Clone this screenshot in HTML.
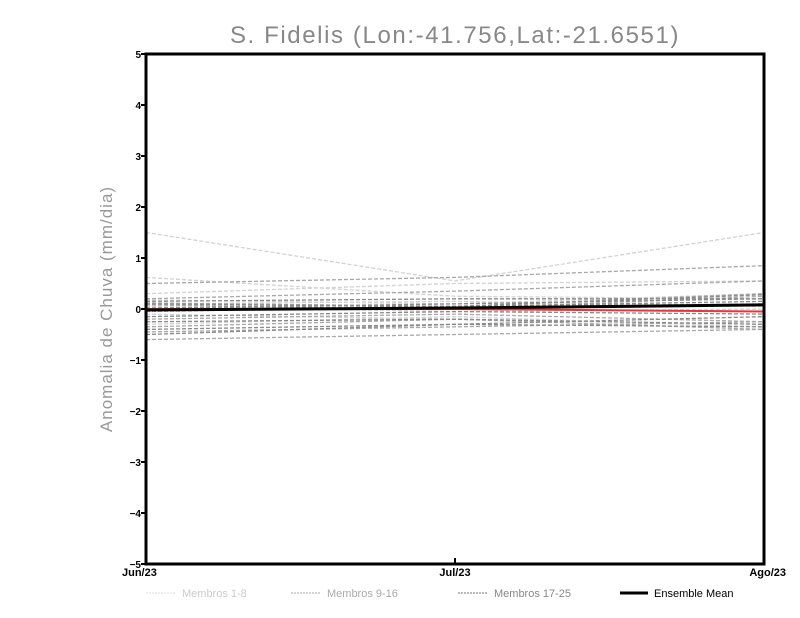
<!DOCTYPE html>
<html><head><meta charset="utf-8">
<style>
body{margin:0;background:#fff;width:800px;height:618px;overflow:hidden;font-family:"Liberation Sans",sans-serif}
svg{display:block}
</style></head>
<body>
<svg id="chart" width="800" height="618" xmlns="http://www.w3.org/2000/svg">
<text x="455" y="43" text-anchor="middle" font-size="24" fill="#888" font-family="Liberation Sans, sans-serif" letter-spacing="1.6">S. Fidelis (Lon:-41.756,Lat:-21.6551)</text>
<text transform="translate(112,309) rotate(-90)" text-anchor="middle" font-size="17" fill="#999" letter-spacing="1">Anomalia de Chuva (mm/dia)</text>
<g id="members"></g>
<g id="axes"></g>
<g id="legend">
  <line x1="146" y1="593" x2="176" y2="593" stroke="#ddd" stroke-dasharray="2,1"/>
  <text x="182" y="597" font-size="11" fill="#ccc">Membros 1-8</text>
  <line x1="291" y1="593" x2="321" y2="593" stroke="#aaa" stroke-dasharray="2,1"/>
  <text x="327" y="597" font-size="11" fill="#aaa">Membros 9-16</text>
  <line x1="458" y1="593" x2="488" y2="593" stroke="#777" stroke-dasharray="2,1"/>
  <text x="494" y="597" font-size="11" fill="#888">Membros 17-25</text>
  <line x1="620" y1="593" x2="648" y2="593" stroke="#000" stroke-width="3"/>
  <text x="654" y="597" font-size="11" fill="#000">Ensemble Mean</text>
</g>
</svg>
<script>
const months=["Jun/23","Jul/23","Ago/23"];
const yTicks=[-5,-4,-3,-2,-1,0,1,2,3,4,5];
const members=[
[1.5,0.55,1.5],[0.62,0.25,0.2],[0.3,0.5,0.55],[0.18,0.1,0.3],[0.1,0.15,0.05],[-0.1,-0.2,-0.3],[-0.3,-0.15,-0.35],[0.05,-0.05,0.0],
[0.5,0.62,0.85],[0.2,0.35,0.55],[0.12,0.05,0.3],[0.08,0.0,0.25],[-0.05,0.05,0.1],[-0.2,-0.1,-0.25],[-0.35,-0.2,-0.4],[-0.45,-0.35,-0.25],[-0.6,-0.5,-0.4],
[0.15,0.2,0.2],[0.1,0.05,0.15],[0.02,0.1,0.2],[-0.15,-0.05,-0.1],[-0.25,-0.2,-0.3],[-0.4,-0.3,-0.35],[-0.5,-0.3,-0.15],[0.0,0.05,0.28]
];
const redSeries=[0.0,0.0,-0.05];
const meanSeries=[-0.02,0.02,0.08];
const L=146,R=764,T=54,B=564;
const X=i=>L+(R-L)*i/(months.length-1);
const Y=v=>T+(B-T)*(5-v)/10;
const NS="http://www.w3.org/2000/svg";
function mk(tag,attrs,parent){const e=document.createElementNS(NS,tag);for(const k in attrs)e.setAttribute(k,attrs[k]);parent.appendChild(e);return e;}
const mg=document.getElementById('members');
members.forEach((m,i)=>{
 const col=i<8?'#d2d2d2':(i<17?'#a8a8a8':'#8a8a8a');
 const p=mk('polyline',{points:m.map((v,j)=>X(j)+','+Y(v)).join(' '),fill:'none',stroke:col,'stroke-width':1.3,'stroke-dasharray':'4,2'},mg);
 
 
});
const red=mk('polyline',{points:redSeries.map((v,j)=>X(j)+','+Y(v)).join(' '),fill:'none',stroke:'#e33','stroke-width':2},mg);


const mean=mk('polyline',{points:meanSeries.map((v,j)=>X(j)+','+Y(v)).join(' '),fill:'none',stroke:'#000','stroke-width':3},mg);


const ax=document.getElementById('axes');
const fr=mk('rect',{x:L,y:T,width:R-L,height:B-T,fill:'none',stroke:'#000','stroke-width':3},ax);


yTicks.forEach(v=>{
 const t=mk('line',{x1:L-5,x2:L,y1:Y(v),y2:Y(v),stroke:'#000','stroke-width':2},ax);
 
 
 const tx=mk('text',{x:L-5,y:Y(v)+4,'text-anchor':'end','font-size':10,'font-weight':'bold',fill:'#000'},ax);
 tx.textContent=v<0?'\u2212'+(-v):String(v);
 
 
});
months.forEach((m,i)=>{
 const t=mk('line',{x1:X(i),x2:X(i),y1:B-6,y2:B,stroke:'#000','stroke-width':2},ax);
 
 
 const anchor=i===0?'start':(i===months.length-1?'end':'middle');
 const tx=mk('text',{x:i===0?L-24:(i===months.length-1?R+22:X(i)),y:B+12,'text-anchor':anchor,'font-size':11,'font-weight':'bold',fill:'#000'},ax);
 tx.textContent=m;
 
 
});
</script>
</body></html>
